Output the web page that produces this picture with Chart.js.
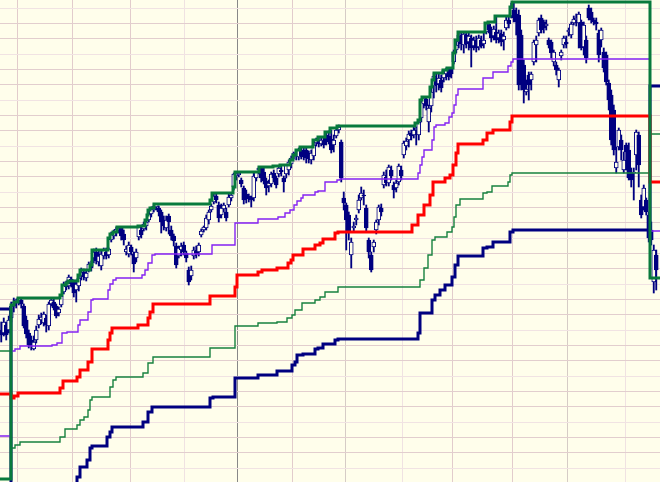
<!DOCTYPE html>
<html>
<head>
<meta charset="utf-8">
<script src="https://cdn.jsdelivr.net/npm/chart.js@4.4.1/dist/chart.umd.min.js"></script>
<style>
  html, body { margin: 0; padding: 0; background: #FFFEEB; }
  #wrap { width: 660px; height: 482px; position: relative; background: #FFFEEB; }
</style>
</head>
<body>
<div id="wrap"><canvas id="myChart"></canvas></div>
<script>
// daily bars, one per trading day
var opens = [
170,167,175,170,182,194,197,199,200,194, 180,167,160,151,160,175,180,177,182,174,
196,198,194,187,195,208,215,214,221,218, 210,214,224,228,222,230,236,242,248,238,
234,244,248,245,260,264,268,270,272,266, 248,246,253,246,242,263,270,271,274,280,
286,290,293,292,288,280,272,284,270,264, 254,244,250,255,247,230,224,244,249,248,
265,270,272,280,290,298,304,295,285,291, 288,295,302,313,324,325,320,312,306,304,
302,302,322,330,332,328,319,314,316,327, 322,326,330,322,326,330,336,344,347,343,
350,349,350,346,340,344,357,360,356,359, 365,364,361,355,364,370,358,302,295,285,
245,272,280,290,302,305,292,260,245,253, 270,280,292,315,323,317,330,315,312,318,
330,345,354,360,367,365,370,365,382,396, 401,378,394,414,422,416,420,422,426,430,
432,438,450,458,464,455,465,458,462,454, 460,453,460,456,468,476,470,464,468,462,
466,460,472,480,484,490,486,485,465,435, 408,425,420,438,455,467,482,478,474,460,
458,438,435,420,444,455,458,468,465,477, 480,477,478,453,460,492,488,480,478,467,
460,448,445,417,405,390,332,353,360,330, 355,350,328,327,345,365,300,293,300,285,
270,218,245
]
var closes = [
165,178,165,180,194,198,200,202,196,174, 166,155,154,158,170,181,183,186,175,196,
200,192,184,191,204,216,213,223,216,207, 216,222,228,223,227,236,232,248,239,244,
246,250,244,251,266,268,271,272,264,260, 251,255,248,236,248,273,265,276,278,286,
291,294,296,288,278,274,280,278,264,259, 235,252,254,248,242,218,230,250,246,255,
269,273,282,288,294,304,300,282,292,295, 282,303,305,326,327,327,316,300,301,301,
300,324,328,332,322,319,312,317,326,322, 315,332,328,318,335,338,342,347,344,350,
344,343,342,341,347,355,361,356,360,355, 358,360,350,360,370,373,322,297,280,268,
258,274,282,300,307,304,272,248,230,258, 278,293,288,325,317,333,324,310,317,334,
324,357,359,366,364,370,372,378,398,402, 394,392,408,424,415,422,412,430,431,423,
426,448,455,465,456,466,456,464,452,460, 452,462,454,460,477,470,462,471,460,467,
458,464,480,476,492,482,478,415,430,410, 411,415,426,458,460,480,470,472,476,455,
447,448,430,430,448,462,456,470,476,481, 482,486,452,475,442,482,480,478,476,445,
470,432,418,400,360,350,338,370,350,340, 348,322,320,328,368,335,285,312,288,262,
260,250,230
]
var highs = [
178,182,178,184,198,202,201,202,202,196, 184,170,164,164,174,185,187,188,185,198,
202,201,196,193,205,218,219,225,223,220, 220,225,232,231,230,238,239,251,252,250,
249,252,252,252,268,270,273,273,273,270, 254,258,255,248,251,274,274,278,280,288,
293,296,296,294,290,284,284,286,274,266, 257,254,257,258,249,233,234,253,254,257,
271,274,285,290,296,306,306,298,296,297, 292,306,307,327,328,328,322,314,310,306,
304,327,328,333,333,332,322,320,328,330, 324,334,334,324,335,340,344,348,350,352,
352,352,352,349,350,360,362,363,363,363, 368,369,370,365,372,375,360,308,297,288,
262,278,285,305,313,310,295,262,248,260, 280,295,296,328,330,335,334,318,320,336,
334,359,362,369,370,373,373,380,401,403, 403,395,412,427,426,426,425,430,432,432,
432,450,460,468,468,468,467,467,465,463, 464,465,464,467,477,478,473,474,484,470,
470,468,483,484,497,498,492,490,470,440, 420,428,428,460,464,482,485,480,480,462,
460,450,438,432,450,464,464,472,478,484, 486,488,480,478,464,495,492,482,482,470,
472,452,448,420,410,395,353,372,365,348, 357,357,332,332,370,368,305,315,302,288,
278,255,250
]
var lows = [
158,164,160,167,178,188,192,195,192,172, 162,152,150,150,157,172,176,174,168,170,
194,190,182,184,193,206,210,211,213,203, 198,209,220,220,219,228,229,237,236,234,
230,241,241,242,258,261,264,267,260,255, 245,243,245,228,238,260,262,269,270,278,
283,288,290,284,267,270,269,266,260,254, 232,242,244,245,238,215,220,241,242,244,
263,268,270,276,288,296,297,278,282,288, 279,293,299,310,320,323,313,296,297,298,
293,299,319,326,318,316,305,308,313,318, 312,323,324,308,322,325,332,341,340,340,
341,340,337,337,336,340,354,353,354,352, 355,356,347,348,362,367,318,290,250,260,
232,268,275,287,300,295,269,242,228,248, 266,275,284,312,314,314,320,302,308,315,
320,342,350,353,360,362,355,360,378,392, 390,368,388,402,408,410,408,418,420,420,
422,436,447,452,450,447,452,450,433,450, 448,450,452,452,466,467,458,460,457,457,
454,450,470,472,482,478,465,410,410,397, 405,400,410,435,438,464,467,467,470,452,
442,434,425,413,440,452,452,464,462,475, 474,452,450,445,437,480,477,475,470,438,
453,428,415,390,355,345,327,350,340,327, 330,320,313,300,330,313,282,290,285,258,
255,207,210
]

// stop levels: [day where the level starts, level]
var stopTop = [[0,21],[4.4,195],[5.6,198],[7.2,202],[24,205],[24.8,215],[26.4,217],[27.2,219],[31.2,225],[32,230],
  [36,235],[36.8,250],[43.2,262],[44,266],[45.2,268],[46.8,273],[55.2,274],[58,280],[58.8,285],[59.2,290],[60,292],
  [61.6,296],[84,300],[84.8,307],[93.2,313],[94,328],[103.6,333],[109.2,334],[112,335],[116,340],[117.2,345],
  [118.4,350],[120,353],[125.2,360],[127.2,363],[130,368],[132,372],[134.8,374],[166,377],[167.2,380],[168,400],
  [168.8,403],[172,413],[172.8,420],[173.6,427],[177.2,430],[178.8,432],[181.2,447],[182,460],[183.2,468],
  [194,477],[195.2,478],[198,484],[204,493],[204.8,498],[260,222],[264,222]]
var stop1 = [[0,64],[4.4,149],[6,151],[8,154],[20.8,155],[22.8,157],[24.8,167],[26.8,168],[31.2,175],[32,180],
  [35.2,188],[36.4,200],[37.2,201],[43.2,210],[44,216],[45.2,220],[46.4,222],[56.8,225],[58,230],[59.2,237],
  [60.8,245],[62,246],[84.8,255],[94,277],[103.2,281],[111.2,283],[114,287],[116,290],[117.6,295],[118.8,299],
  [120.4,302],[121.2,305],[126,308],[127.2,309],[130,318],[134.8,320],[136,321],[167.2,327],[168,335],[168.8,343],
  [169.6,350],[172.8,360],[173.6,373],[174.4,375],[178,377],[179.6,383],[180.8,387],[181.6,395],[182.4,405],
  [183.2,411],[193.2,422],[197.2,428],[203.2,434],[204.4,438],[205.2,441],[260,269],[264,269]]
var stop2 = [[0,106],[4.4,102],[5.6,104],[7.2,107],[24,112],[25.2,119],[30.8,123],[32,130],[35.2,138],[36.8,151],
  [43.2,160],[44,167],[44.8,172],[55.2,175],[59.2,182],[60,188],[61.2,196],[84,204],[94,213],[94.8,225],
  [103.2,228],[104.8,230],[110.8,232],[115.2,237],[116.4,240],[117.2,245],[121.2,251],[126,255],[128,257],
  [129.2,261],[134,267],[135.2,268],[164.8,275],[167.2,285],[169.6,295],[172,305],[173.2,318],[178,322],
  [180,325],[181.2,335],[182.4,347],[183.2,356],[193.2,360],[194.8,367],[197.2,370],[204,378],[204.8,384],
  [260,318],[264,318]]
var stop3 = [[0,149],[4.4,52],[6,55],[8,58],[24,63],[26,71],[30.8,75],[32,80],[33.6,83],[35.2,90],[36,100],
  [36.8,103],[44,113],[45.2,120],[46.4,123],[57.2,127],[59.2,137],[61.2,143],[84,152],[94,174],[103.2,177],
  [110.8,178],[114.8,182],[116.8,185],[118,190],[120.8,197],[126,200],[128,203],[130,208],[135.2,213],
  [168,220],[169.6,232],[171.2,245],[172.8,260],[174,263],[178.8,268],[180.8,273],[181.6,283],[182.4,295],
  [184,301],[193.2,307],[194.8,308],[196.8,314],[203.2,318],[204,325],[204.8,327],[260,366],[264,366]]
var stop4 = [[0,191],[4.4,10],[30.8,23],[32,33],[34.8,40],[36,52],[36.8,54],[42.8,63],[44,68],[44.8,73],
  [57.2,78],[59.2,88],[60.8,93],[84,102],[85.2,103],[94,122],[103.2,125],[110.8,129],[116.8,135],[118,138],
  [118.8,145],[121.2,146],[126,151],[127.2,152],[129.2,156],[134,160],[135.2,161],[167.2,167],[168,187],
  [172.8,200],[174,205],[176,210],[178,215],[180.8,223],[182,235],[183.2,244],[193.2,252],[194.8,253],
  [197.2,258],[204,268],[205.2,270],[260,414],[264,414]]

// grid: month starts (day index) and price levels
var monthLines = [7, 29, 52, 74, 95, 117, 138, 161, 181, 205, 227, 250]
var gridLevels = [492, 476.7, 461.3, 446, 430.6, 415.3, 400, 384.6, 369.3, 353.9, 338.6, 323.3, 307.9,
  292.6, 277.2, 261.9, 246.6, 231.2, 215.9, 200.5, 185.2, 169.9, 154.5, 139.2, 123.8, 108.5, 93.2,
  77.8, 62.5, 47.1, 31.8]

var navy = '#000080'
var cream = '#FFFEEB'
var monthColors = ['#E2CCCC','#E2CCCC','#E2CCCC','#F0E2E2','#888888','#E2CCCC','#D6CCC6','#F0E2E2','#E2CCCC','#E2CCCC','#D6CCC6','#F0E2E2']

function pts(arr) {
    return arr.map(function (p) { return { x: p[0], y: p[1] } })
}

function stepLine(arr, color, width) {
    return {
        type: 'line',
        data: pts(arr),
        borderColor: color,
        borderWidth: width,
        pointRadius: 0,
        fill: false,
        stepped: true,
        order: 1
    }
}

var bodies = opens.map(function (o, i) { return { x: i + 0.5, y: [o, closes[i]] } })
var wicks = lows.map(function (l, i) { return { x: i + 0.5, y: [l, highs[i]] } })
var bodyColors = opens.map(function (o, i) { return closes[i] >= o ? cream : navy })

const config = {
    type: 'bar',
    data: {
        datasets: [
            stepLine(stopTop, '#087A3C', 3),
            stepLine(stop1, '#8422F2', 1.4),
            stepLine(stop2, '#FF0000', 3),
            stepLine(stop3, '#17813F', 1.4),
            stepLine(stop4, '#000080', 3),
            {
                type: 'bar',
                data: bodies,
                backgroundColor: bodyColors,
                borderColor: navy,
                borderWidth: 1,
                borderSkipped: false,
                barThickness: 4,
                grouped: false,
                order: 5
            },
            {
                type: 'bar',
                data: wicks,
                backgroundColor: navy,
                borderWidth: 0,
                barThickness: 1.2,
                grouped: false,
                order: 6
            }
        ]
    },
    options: {
        responsive: true,
        maintainAspectRatio: false,
        animation: false,
        layout: { padding: 0, autoPadding: false },
        plugins: { legend: { display: false }, tooltip: { enabled: false } },
        scales: {
            x: {
                type: 'linear',
                min: 0,
                max: 264,
                offset: false,
                afterBuildTicks: function (scale) {
                    scale.ticks = monthLines.map(function (v) { return { value: v } })
                },
                ticks: { display: false },
                border: { display: false },
                grid: {
                    offset: false,
                    drawTicks: false,
                    color: function (ctx) { return monthColors[ctx.index] || '#E2CCCC' }
                }
            },
            y: {
                type: 'linear',
                min: 18,
                max: 500,
                afterBuildTicks: function (scale) {
                    scale.ticks = gridLevels.map(function (v) { return { value: v } })
                },
                ticks: { display: false },
                border: { display: false },
                grid: {
                    drawTicks: false,
                    color: function (ctx) { return ctx.index % 3 == 0 ? '#F1E3E3' : '#E2CECE' }
                }
            }
        }
    }
}

const myChart = new Chart(document.getElementById('myChart'), config)
</script>
</body>
</html>
